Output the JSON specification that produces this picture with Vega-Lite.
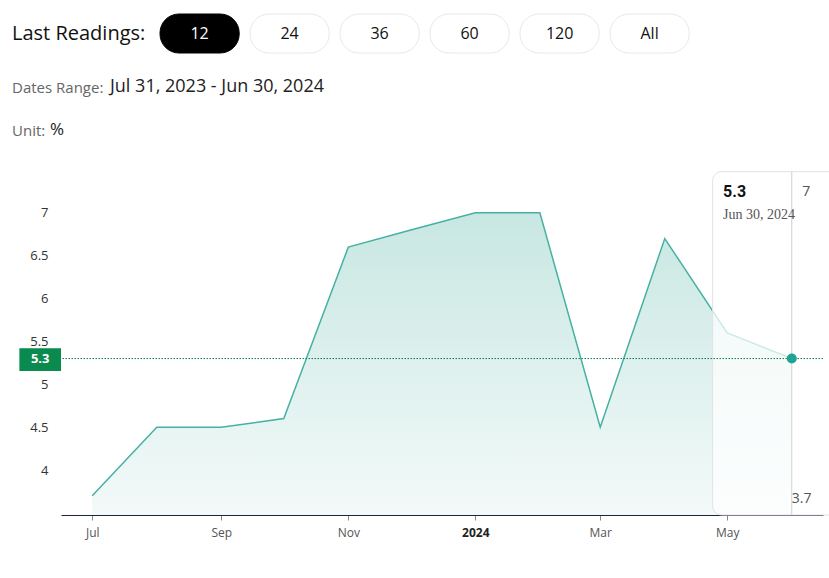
{
  "$schema": "https://vega.github.io/schema/vega-lite/v6.json",
  "width": 762,
  "height": 345,
  "autosize": {"type": "none"},
  "padding": {"left": 61, "top": 170, "right": 6, "bottom": 63},
  "background": "#ffffff",
  "config": {"view": {"stroke": null}, "font": "Open Sans"},
  "datasets": {
    "readings": [
      {"date": "2023-07-01", "value": 3.7},
      {"date": "2023-08-01", "value": 4.5},
      {"date": "2023-09-01", "value": 4.5},
      {"date": "2023-10-01", "value": 4.6},
      {"date": "2023-11-01", "value": 6.6},
      {"date": "2023-12-01", "value": 6.8},
      {"date": "2024-01-01", "value": 7.0},
      {"date": "2024-02-01", "value": 7.0},
      {"date": "2024-03-01", "value": 4.5},
      {"date": "2024-04-01", "value": 6.7},
      {"date": "2024-05-01", "value": 5.6},
      {"date": "2024-06-01", "value": 5.3}
    ],
    "one": [{"k": 1}]
  },
  "resolve": {"scale": {"x": "independent", "y": "independent"}, "axis": {"x": "independent", "y": "independent"}},
  "layer": [
    {
      "layer": [
        {
          "data": {"name": "readings"},
          "mark": {
            "type": "area",
            "color": {
              "gradient": "linear", "x1": 0, "y1": 1, "x2": 0, "y2": 0,
              "stops": [{"offset": 0, "color": "#f3faf9"}, {"offset": 1, "color": "#c8e7e2"}]
            }
          },
          "encoding": {
            "x": {
              "field": "date", "type": "temporal",
              "scale": {"type": "utc", "domain": [
                {"year": 2023, "month": "jun", "date": 16, "utc": true},
                {"year": 2024, "month": "jun", "date": 16, "utc": true}
              ]},
              "axis": {
                "title": null,
                "tickCount": {"interval": "month", "step": 2},
                "labelExpr": "utcmonth(datum.value) == 0 ? utcFormat(datum.value, '%Y') : utcFormat(datum.value, '%b')",
                "labelFontWeight": {"condition": {"test": "utcmonth(datum.value) == 0", "value": "bold"}, "value": "normal"},
                "labelColor": {"condition": {"test": "utcmonth(datum.value) == 0", "value": "#222222"}, "value": "#555555"},
                "labelFontSize": 12,
                "labelPadding": 7,
                "domainColor": "#1e2340",
                "domainWidth": 1,
                "tickColor": "#888888",
                "tickSize": 5,
                "grid": false
              }
            },
            "y": {
              "field": "value", "type": "quantitative",
              "scale": {"domain": [3.475, 7.5], "zero": false, "nice": false},
              "axis": {
                "title": null,
                "values": [4, 4.5, 5, 5.5, 6, 6.5, 7],
                "format": "~g",
                "domain": false,
                "ticks": false,
                "grid": false,
                "labelPadding": 13,
                "labelFontSize": 13,
                "labelColor": "#333333"
              }
            },
            "y2": {"datum": 3.475}
          }
        },
        {
          "data": {"name": "readings"},
          "mark": {"type": "line", "color": "#46b1a3", "strokeWidth": 1.5},
          "encoding": {
            "x": {"field": "date", "type": "temporal"},
            "y": {"field": "value", "type": "quantitative"}
          }
        },
        {
          "data": {"name": "one"},
          "mark": {"type": "rect", "fill": "#ffffff", "fillOpacity": 0.72, "stroke": "#e2e2e2", "strokeWidth": 1, "cornerRadius": 9},
          "encoding": {
            "x": {"datum": {"year": 2024, "month": "apr", "date": 24, "utc": true}, "type": "temporal"},
            "x2": {"datum": {"year": 2024, "month": "jul", "date": 10, "utc": true}},
            "y": {"datum": 7.48, "type": "quantitative"},
            "y2": {"datum": 3.475}
          }
        },
        {
          "data": {"name": "one"},
          "mark": {"type": "rule", "color": "#d0d0d0", "strokeWidth": 1},
          "encoding": {
            "x": {"datum": {"year": 2024, "month": "jun", "date": 1, "utc": true}, "type": "temporal"},
            "y": {"datum": 7.48, "type": "quantitative"},
            "y2": {"datum": 3.475}
          }
        },
        {
          "data": {"name": "one"},
          "mark": {"type": "rule", "color": "#0b7a4d", "strokeWidth": 1, "strokeDash": [1.5, 1.5]},
          "encoding": {"y": {"datum": 5.3, "type": "quantitative"}}
        },
        {
          "data": {"name": "one"},
          "mark": {"type": "rect", "fill": "#0a8a4e"},
          "encoding": {
            "x": {"datum": {"year": 2023, "month": "may", "date": 27, "utc": true}, "type": "temporal"},
            "x2": {"datum": {"year": 2023, "month": "jun", "date": 16, "utc": true}},
            "y": {"datum": 5.42, "type": "quantitative"},
            "y2": {"datum": 5.155}
          }
        },
        {
          "data": {"name": "one"},
          "mark": {"type": "text", "color": "#ffffff", "fontSize": 13, "fontWeight": "bold", "align": "center", "baseline": "middle"},
          "encoding": {
            "x": {"datum": {"year": 2023, "month": "jun", "date": 6, "utc": true}, "type": "temporal"},
            "y": {"datum": 5.29, "type": "quantitative"},
            "text": {"value": "5.3"}
          }
        },
        {
          "data": {"name": "one"},
          "mark": {"type": "text", "color": "#111111", "fontSize": 16, "fontWeight": "bold", "font": "Roboto", "align": "left", "baseline": "middle"},
          "encoding": {
            "x": {"datum": {"year": 2024, "month": "apr", "date": 29, "utc": true}, "type": "temporal"},
            "y": {"datum": 7.245, "type": "quantitative"},
            "text": {"value": "5.3"}
          }
        },
        {
          "data": {"name": "one"},
          "mark": {"type": "text", "color": "#555555", "fontSize": 14, "font": "Liberation Serif", "align": "left", "baseline": "middle"},
          "encoding": {
            "x": {"datum": {"year": 2024, "month": "apr", "date": 29, "utc": true}, "type": "temporal"},
            "y": {"datum": 6.975, "type": "quantitative"},
            "text": {"value": "Jun 30, 2024"}
          }
        },
        {
          "data": {"name": "one"},
          "mark": {"type": "text", "color": "#555555", "fontSize": 14, "align": "center", "baseline": "middle"},
          "encoding": {
            "x": {"datum": {"year": 2024, "month": "jun", "date": 8, "utc": true}, "type": "temporal"},
            "y": {"datum": 7.245, "type": "quantitative"},
            "text": {"value": "7"}
          }
        },
        {
          "data": {"name": "one"},
          "mark": {"type": "text", "color": "#555555", "fontSize": 14, "align": "left", "baseline": "middle"},
          "encoding": {
            "x": {"datum": {"year": 2024, "month": "jun", "date": 1, "utc": true}, "type": "temporal"},
            "y": {"datum": 3.66, "type": "quantitative"},
            "text": {"value": "3.7"}
          }
        },
        {
          "data": {"name": "readings"},
          "transform": [{"filter": "datum.value == 5.3"}],
          "mark": {"type": "point", "filled": true, "color": "#1fa394", "size": 100, "opacity": 1},
          "encoding": {
            "x": {"field": "date", "type": "temporal"},
            "y": {"field": "value", "type": "quantitative"}
          }
        }
      ]
    },
    {
      "data": {"values": [
        {"label": "12"}, {"label": "24"}, {"label": "36"}, {"label": "60"}, {"label": "120"}, {"label": "All"}
      ]},
      "encoding": {
        "x": {
          "field": "label", "type": "nominal", "sort": null,
          "scale": {"type": "band", "domain": ["12", "24", "36", "60", "120", "All"], "range": [93.6, 633.6], "paddingInner": 0.12, "paddingOuter": 0.06},
          "axis": null
        }
      },
      "layer": [
        {
          "mark": {"type": "rect", "cornerRadius": 19, "y": -156, "y2": -117, "strokeWidth": 1},
          "encoding": {
            "fill": {"condition": {"test": "datum.label === '12'", "value": "#000000"}, "value": "#ffffff"},
            "stroke": {"condition": {"test": "datum.label === '12'", "value": "#000000"}, "value": "#e8e8e8"}
          }
        },
        {
          "mark": {"type": "text", "y": -136.5, "fontSize": 16, "font": "Open Sans", "align": "center", "baseline": "middle"},
          "encoding": {
            "text": {"field": "label"},
            "color": {"condition": {"test": "datum.label === '12'", "value": "#ffffff"}, "value": "#111111"}
          }
        }
      ]
    },
    {
      "data": {"values": [{"label": "Last Readings:"}]},
      "mark": {"type": "text", "x": -49, "y": -136, "fontSize": 20, "font": "Open Sans", "color": "#111111", "align": "left", "baseline": "middle"},
      "encoding": {"text": {"field": "label"}}
    },
    {
      "data": {"values": [{"label": "Dates Range:"}]},
      "mark": {"type": "text", "x": -49, "y": -82, "fontSize": 15, "font": "Open Sans", "color": "#666666", "align": "left", "baseline": "middle"},
      "encoding": {"text": {"field": "label"}}
    },
    {
      "data": {"values": [{"label": "Unit:"}]},
      "mark": {"type": "text", "x": -49, "y": -39, "fontSize": 15, "font": "Open Sans", "color": "#666666", "align": "left", "baseline": "middle"},
      "encoding": {"text": {"field": "label"}}
    },
    {
      "data": {"values": [{"label": "Jul 31, 2023 - Jun 30, 2024"}]},
      "mark": {"type": "text", "x": 49, "y": -83, "fontSize": 18, "font": "Open Sans", "color": "#222222", "align": "left", "baseline": "middle"},
      "encoding": {"text": {"field": "label"}}
    },
    {
      "data": {"values": [{"label": "%"}]},
      "mark": {"type": "text", "x": -11, "y": -40, "fontSize": 17, "font": "Open Sans", "color": "#222222", "align": "left", "baseline": "middle"},
      "encoding": {"text": {"field": "label"}}
    }
  ]
}
